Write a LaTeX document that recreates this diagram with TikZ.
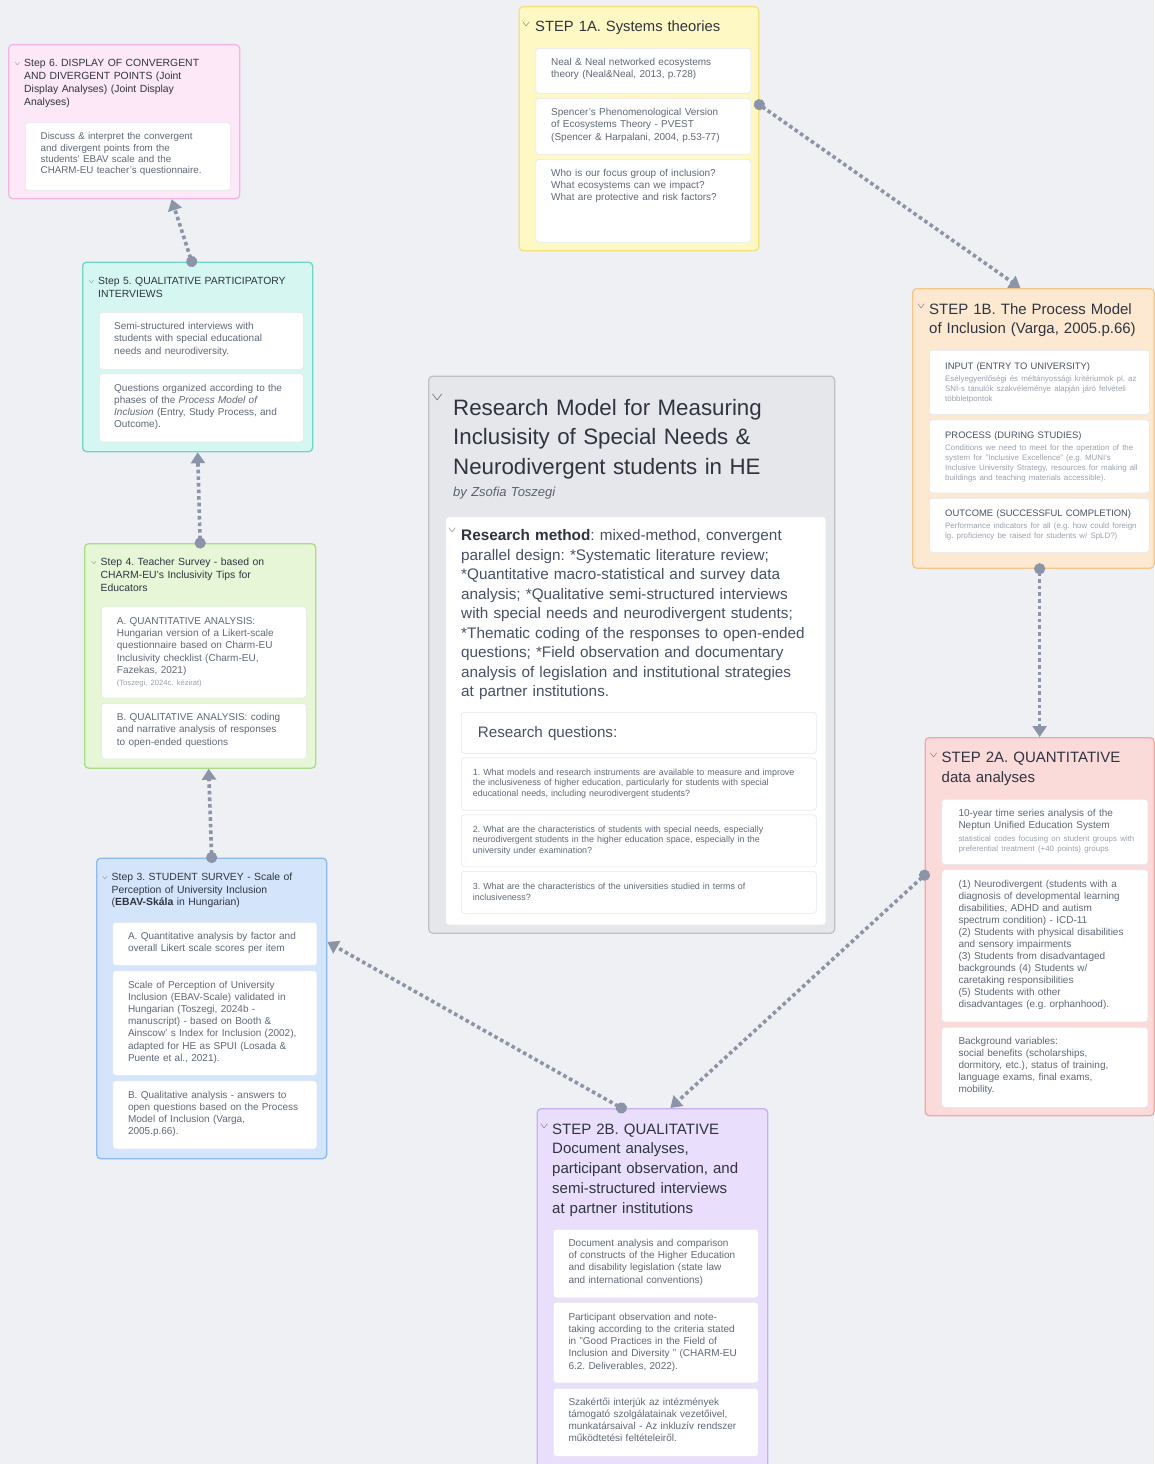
\documentclass[tikz,border=0pt]{standalone}
\usepackage{fontspec}
\setmainfont{Liberation Sans}
\usepackage{tikz}
\usetikzlibrary{arrows.meta, positioning}
\frenchspacing

\definecolor{canvas}{HTML}{EFF0F3}
\definecolor{titletxt}{HTML}{2F3440}
\definecolor{bodytxt}{HTML}{5F6877}
\definecolor{faint}{HTML}{9AA1AD}
\definecolor{headtxt}{HTML}{4A5261}
\definecolor{slate}{HTML}{485164}
\definecolor{bytxt}{HTML}{5A6270}
\definecolor{cardline}{HTML}{E4E7EC}
\definecolor{linkcol}{HTML}{8C95A7}
\definecolor{pinkbg}{HTML}{FCE8F6}
\definecolor{pinkln}{HTML}{F1B7E2}
\definecolor{yellowbg}{HTML}{FEF9C4}
\definecolor{yellowln}{HTML}{F5E07A}
\definecolor{tealbg}{HTML}{D5F6F1}
\definecolor{tealln}{HTML}{6FD6C6}
\definecolor{orangebg}{HTML}{FDE9D1}
\definecolor{orangeln}{HTML}{F5C58C}
\definecolor{greybg}{HTML}{E5E7EB}
\definecolor{greyln}{HTML}{BDC2CA}
\definecolor{greenbg}{HTML}{E6F6D7}
\definecolor{greenln}{HTML}{A9DB89}
\definecolor{redbg}{HTML}{FBDADA}
\definecolor{redln}{HTML}{F0A7A7}
\definecolor{bluebg}{HTML}{D4E5FB}
\definecolor{blueln}{HTML}{8BB9F1}
\definecolor{purplebg}{HTML}{E9DEFB}
\definecolor{purpleln}{HTML}{C6B0F2}

\newcommand{\fsize}[2]{\fontsize{#1}{#2}\selectfont}
\newcommand{\chev}[2]{\llap{\raisebox{#1}{\color{headtxt}\scalebox{0.85}[0.5]{$\vee$}}\hspace{#2}}}
\newcommand{\smtxt}{\fsize{7.9}{10}\color{faint}}

\begin{document}
\begin{tikzpicture}[x=1pt, y=-1pt, >={Triangle[width=14pt, length=11pt]},
    panel/.style={draw, line width=1.3pt, rounded corners=4pt, anchor=north west,
      inner sep=0pt},
    card/.style={draw=cardline, fill=white, line width=0.6pt, rounded corners=3pt,
      anchor=north west, inner sep=0pt},
    cardtext/.style={inner sep=0pt, align=left, text width=215pt, text height=8pt,
      text=bodytxt, font=\fsize{10}{12.2}},
    steptitle/.style={inner sep=0pt, align=left, text width=225pt, text height=8pt,
      text=titletxt, font=\fsize{10.4}{13}},
    bigtitle/.style={steptitle, text height=11pt, font=\fsize{15}{19.6}},
    flowline/.style={draw=linkcol, line width=3.6pt, dash pattern=on 3.6pt off 3pt,
      {Circle[length=11pt]}->, shorten <=-5.5pt}]

  \fill[canvas] (0,0) rectangle (1154,1464);
  \useasboundingbox (0,0) rectangle (1154,1464);

  \node[panel, fill=pinkbg, draw=pinkln, minimum width=231pt, minimum height=154pt] (S6) at (8,44) {};
  \node[steptitle, below right=14.7pt and 16pt of S6.north west] (S6T)
  {\chev{1.4pt}{4pt}Step 6. DISPLAY OF CONVERGENT\\AND DIVERGENT POINTS (Joint\\Display Analyses) (Joint Display\\Analyses)};
  \node[card, minimum width=205pt, minimum height=68pt] (S61) at (25,122) {};
  \node[cardtext, font=\fsize{9.8}{11.4}, below right=9.5pt and 15.5pt of S61.north west] (S61T)
  {Discuss \& interpret the convergent\\and divergent points from the\\students' EBAV scale and the\\CHARM-EU teacher's questionnaire.};

  \node[panel, fill=yellowbg, draw=yellowln, minimum width=239.5pt, minimum height=244pt] (S1A) at (518.5,6) {};
  \node[bigtitle, font=\fsize{14.8}{19.4}, below right=14.7pt and 16.5pt of S1A.north west] (S1AT)
  {\chev{5.6pt}{5pt}STEP 1A. Systems theories};
  \node[card, minimum width=215pt, minimum height=45pt] (S1A1) at (535.5,48) {};
  \node[cardtext, below right=9.5pt and 15.5pt of S1A1.north west] (S1A1T)
  {Neal \& Neal networked ecosystems\\theory (Neal\&Neal, 2013, p.728)};
  \node[card, minimum width=215pt, minimum height=56pt] (S1A2) at (535.5,98) {};
  \node[cardtext, below right=9.5pt and 15.5pt of S1A2.north west] (S1A2T)
  {Spencer's Phenomenological Version\\of Ecosystems Theory - PVEST\\(Spencer \& Harpalani, 2004, p.53-77)};
  \node[card, minimum width=215pt, minimum height=83pt] (S1A3) at (535.5,159) {};
  \node[cardtext, below right=9pt and 15.5pt of S1A3.north west] (S1A3T)
  {Who is our focus group of inclusion?\\What ecosystems can we impact?\\What are protective and risk factors?};

  \node[panel, fill=tealbg, draw=tealln, minimum width=230pt, minimum height=189.5pt] (S5) at (82,261.5) {};
  \node[steptitle, font=\fsize{10.4}{12.5}, below right=15pt and 16pt of S5.north west] (S5T)
  {\chev{1.4pt}{4pt}Step 5. QUALITATIVE PARTICIPATORY\\INTERVIEWS};
  \node[card, minimum width=204pt, minimum height=57pt] (S51) at (99,312) {};
  \node[cardtext, below right=9.5pt and 15pt of S51.north west] (S51T)
  {Semi-structured interviews with\\students with special educational\\needs and neurodiversity.};
  \node[card, minimum width=204pt, minimum height=68pt] (S52) at (99,373.5) {};
  \node[cardtext, below right=9.5pt and 15pt of S52.north west] (S52T)
  {Questions organized according to the\\phases of the \textit{Process Model of}\\\textit{Inclusion} (Entry, Study Process, and\\Outcome).};

  \node[panel, fill=orangebg, draw=orangeln, minimum width=241.5pt, minimum height=279.5pt] (S1B) at (912,288) {};
  \node[bigtitle, font=\fsize{15}{19}, below right=15pt and 17pt of S1B.north west] (S1BT)
  {\chev{5.6pt}{4pt}STEP 1B. The Process Model\\of Inclusion (Varga, 2005.p.66)};
  \node[card, minimum width=220pt, minimum height=64pt] (S1B1) at (929,350) {};
  \node[cardtext, text=headtxt, text height=7pt, font=\fsize{9.4}{11.5}, below right=12pt and 16pt of S1B1.north west] (S1B1T)
  {INPUT (ENTRY TO UNIVERSITY)\par\vspace{2.4pt}\smtxt Esélyegyenlőségi és méltányossági kritériumok pl. az\\SNI-s tanulók szakvéleménye alapján járó felvételi\\többletpontok\par};
  \node[card, minimum width=220pt, minimum height=73pt] (S1B2) at (929,419.5) {};
  \node[cardtext, text=headtxt, text height=7pt, font=\fsize{9.4}{11.5}, below right=11.5pt and 16pt of S1B2.north west] (S1B2T)
  {PROCESS (DURING STUDIES)\par\vspace{2.4pt}\smtxt Conditions we need to meet for the operation of the\\system for "Inclusive Excellence" (e.g. MUNI's\\Inclusive University Strategy, resources for making all\\buildings and teaching materials accessible).\par};
  \node[card, minimum width=220pt, minimum height=54pt] (S1B3) at (929,498) {};
  \node[cardtext, text=headtxt, text height=7pt, font=\fsize{9.4}{11.5}, below right=11.5pt and 16pt of S1B3.north west] (S1B3T)
  {OUTCOME (SUCCESSFUL COMPLETION)\par\vspace{1.5pt}\smtxt Performance indicators for all (e.g. how could foreign\\lg. proficiency be raised for students w/ SpLD?)\par};

  \node[panel, fill=greybg, draw=greyln, minimum width=406pt, minimum height=557pt] (MODEL) at (428,375.5) {};
  \node[steptitle, text width=380pt, text height=16pt, font=\fsize{22.3}{29.2}, below right=24pt and 25pt of MODEL.north west] (MODELT)
  {\chev{15.3pt}{10pt}Research Model for Measuring\\Inclusisity of Special Needs \&\\Neurodivergent students in HE};
  \node[steptitle, text height=10pt, text=bytxt, font=\fsize{13}{15}\itshape, below right=111pt and 25pt of MODEL.north west] (BY)
  {by Zsofia Toszegi};
  \node[card, minimum width=380pt, minimum height=408pt] (METHOD) at (445.5,516.5) {};
  \node[cardtext, text width=360pt, text height=11.5pt, text=slate, font=\fsize{15.3}{19.5}, below right=12.7pt and 15.5pt of METHOD.north west] (METHODT)
  {\chev{8.3pt}{5pt}{\color{titletxt}\textbf{Research method}}: mixed-method, convergent\\parallel design: *Systematic literature review;\\{}*Quantitative macro-statistical and survey data\\analysis; *Qualitative semi-structured interviews\\with special needs and neurodivergent students;\\{}*Thematic coding of the responses to open-ended\\questions; *Field observation and documentary\\analysis of legislation and institutional strategies\\at partner institutions.};
  \node[card, minimum width=355pt, minimum height=41pt] (RQ) at (461,712) {};
  \node[cardtext, text height=11pt, text=slate, font=\fsize{15.2}{18}, below right=14pt and 16.7pt of RQ.north west] (RQT)
  {Research questions:};
  \node[card, minimum width=355pt, minimum height=52.5pt] (Q1) at (461,757.5) {};
  \node[cardtext, text width=340pt, text height=6.5pt, font=\fsize{8.9}{10.9}, below right=10.8pt and 11.7pt of Q1.north west] (Q1T)
  {1. What models and research instruments are available to measure and improve\\the inclusiveness of higher education, particularly for students with special\\educational needs, including neurodivergent students?};
  \node[card, minimum width=355pt, minimum height=52pt] (Q2) at (461,814.5) {};
  \node[cardtext, text width=340pt, text height=6.5pt, font=\fsize{8.9}{10.9}, below right=10.8pt and 11.7pt of Q2.north west] (Q2T)
  {2. What are the characteristics of students with special needs, especially\\neurodivergent students in the higher education space, especially in the\\university under examination?};
  \node[card, minimum width=355pt, minimum height=42pt] (Q3) at (461,871) {};
  \node[cardtext, text width=340pt, text height=6.5pt, font=\fsize{8.9}{10.9}, below right=11.5pt and 11.7pt of Q3.north west] (Q3T)
  {3. What are the characteristics of the universities studied in terms of\\inclusiveness?};

  \node[panel, fill=greenbg, draw=greenln, minimum width=231pt, minimum height=224.5pt] (S4) at (84,543) {};
  \node[steptitle, below right=14.5pt and 16.5pt of S4.north west] (S4T)
  {\chev{1.4pt}{4pt}Step 4. Teacher Survey - based on\\CHARM-EU's Inclusivity Tips for\\Educators};
  \node[card, minimum width=205pt, minimum height=91pt] (S41) at (101,606.5) {};
  \node[cardtext, font=\fsize{10}{12.3}, below right=9.5pt and 15.7pt of S41.north west] (S41T)
  {A. QUANTITATIVE ANALYSIS:\\Hungarian version of a Likert-scale\\questionnaire based on Charm-EU\\Inclusivity checklist (Charm-EU,\\Fazekas, 2021)\par\vspace{3pt}{\fsize{7.6}{9.5}\color{faint}(Toszegi, 2024c. kézirat)\par}};
  \node[card, minimum width=205pt, minimum height=55.5pt] (S42) at (101,703) {};
  \node[cardtext, below right=9.5pt and 15.7pt of S42.north west] (S42T)
  {B. QUALITATIVE ANALYSIS: coding\\and narrative analysis of responses\\to open-ended questions};

  \node[panel, fill=redbg, draw=redln, minimum width=229pt, minimum height=378pt] (S2A) at (924.5,737) {};
  \node[bigtitle, below right=14.7pt and 17pt of S2A.north west] (S2AT)
  {\chev{5.6pt}{4pt}STEP 2A. QUANTITATIVE\\data analyses};
  \node[card, minimum width=206pt, minimum height=65pt] (S2A1) at (941.5,799) {};
  \node[cardtext, below right=9.5pt and 16.8pt of S2A1.north west] (S2A1T)
  {10-year time series analysis of the\\Neptun Unified Education System\par\vspace{3pt}\smtxt statistical codes focusing on student groups with\\preferential treatment (+40 points) groups\par};
  \node[card, minimum width=206pt, minimum height=152pt] (S2A2) at (941.5,869.5) {};
  \node[cardtext, font=\fsize{10}{12.05}, below right=9.5pt and 16.8pt of S2A2.north west] (S2A2T)
  {(1) Neurodivergent (students with a\\diagnosis of developmental learning\\disabilities, ADHD and autism\\spectrum condition) - ICD-11\\(2) Students with physical disabilities\\and sensory impairments\\(3) Students from disadvantaged\\backgrounds (4) Students w/\\caretaking responsibilities\\(5) Students with other\\disadvantages (e.g. orphanhood).};
  \node[card, minimum width=206pt, minimum height=80pt] (S2A3) at (941.5,1027) {};
  \node[cardtext, below right=8.8pt and 16.8pt of S2A3.north west] (S2A3T)
  {Background variables:\\social benefits (scholarships,\\dormitory, etc.), status of training,\\language exams, final exams,\\mobility.};

  \node[panel, fill=bluebg, draw=blueln, minimum width=230pt, minimum height=300.5pt] (S3) at (96,857.5) {};
  \node[steptitle, font=\fsize{10.4}{12.5}, below right=15pt and 15.5pt of S3.north west] (S3T)
  {\chev{1.4pt}{4pt}Step 3. STUDENT SURVEY - Scale of\\Perception of University Inclusion\\(\textbf{EBAV-Skála} in Hungarian)};
  \node[card, minimum width=204pt, minimum height=43pt] (S31) at (112.5,922) {};
  \node[cardtext, below right=9.3pt and 15.3pt of S31.north west] (S31T)
  {A. Quantitative analysis by factor and\\overall Likert scale scores per item};
  \node[card, minimum width=204pt, minimum height=104.5pt] (S32) at (112.5,970.5) {};
  \node[cardtext, below right=9.3pt and 15.3pt of S32.north west] (S32T)
  {Scale of Perception of University\\Inclusion (EBAV-Scale) validated in\\Hungarian (Toszegi, 2024b -\\manuscript) - based on Booth \&\\Ainscow' s Index for Inclusion (2002),\\adapted for HE as SPUI (Losada \&\\Puente et al., 2021).};
  \node[card, minimum width=204pt, minimum height=68pt] (S33) at (112.5,1080.5) {};
  \node[cardtext, below right=9.3pt and 15.3pt of S33.north west] (S33T)
  {B. Qualitative analysis - answers to\\open questions based on the Process\\Model of Inclusion (Varga,\\2005.p.66).};

  \node[panel, fill=purplebg, draw=purpleln, minimum width=230.5pt, minimum height=370pt] (S2B) at (536.5,1108) {};
  \node[bigtitle, font=\fsize{15}{19.7}, below right=15pt and 15.5pt of S2B.north west] (S2BT)
  {\chev{5.6pt}{4pt}STEP 2B. QUALITATIVE\\Document analyses,\\participant observation, and\\semi-structured interviews\\at partner institutions};
  \node[card, minimum width=205pt, minimum height=68.5pt] (S2B1) at (553,1229) {};
  \node[cardtext, below right=9.3pt and 15.3pt of S2B1.north west] (S2B1T)
  {Document analysis and comparison\\of constructs of the Higher Education\\and disability legislation (state law\\and international conventions)};
  \node[card, minimum width=205pt, minimum height=80.5pt] (S2B2) at (553,1302) {};
  \node[cardtext, below right=10pt and 15.3pt of S2B2.north west] (S2B2T)
  {Participant observation and note-\\taking according to the criteria stated\\in "Good Practices in the Field of\\Inclusion and Diversity " (CHARM-EU\\6.2. Deliverables, 2022).};
  \node[card, minimum width=205pt, minimum height=68pt] (S2B3) at (553,1388) {};
  \node[cardtext, below right=8.8pt and 15.3pt of S2B3.north west] (S2B3T)
  {Szakértői interjúk az intézmények\\támogató szolgálatainak vezetőivel,\\munkatársaival - Az inkluzív rendszer\\működtetési feltételeiről.};

  \draw[flowline] ([yshift=24pt]S1A.east) -- ([xshift=-13pt]S1B.north);
  \draw[flowline] (S1B.south -| S2A.north) -- (S2A.north);
  \draw[flowline] ([yshift=51.5pt]S2A.west) -- ([xshift=18pt]S2B.north);
  \draw[flowline] ([xshift=-31pt]S2B.north) -- ([yshift=66.5pt]S3.east);
  \draw[flowline] (S3.north) -- ([xshift=8.5pt]S4.south);
  \draw[flowline] (S4.north) -- (S5.south);
  \draw[flowline] ([xshift=-6pt]S5.north) -- ([xshift=47.5pt]S6.south);
\end{tikzpicture}
\end{document}
